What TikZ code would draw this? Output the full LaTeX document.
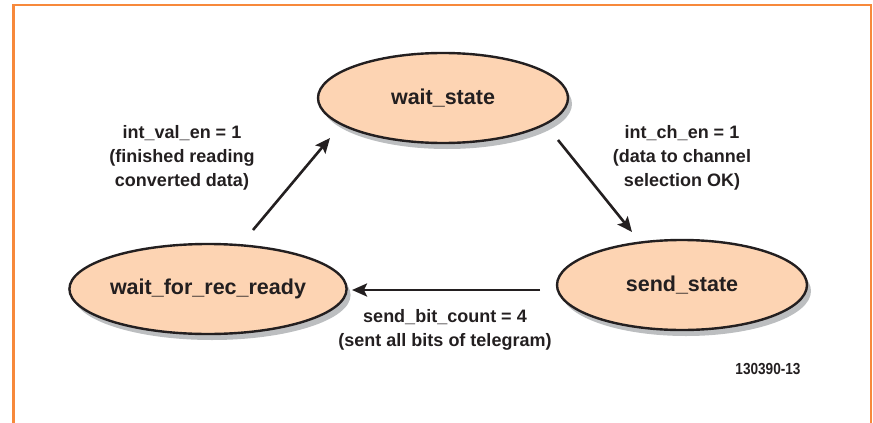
\documentclass[tikz,border=0pt]{standalone}
\usepackage{fontspec}
\setmainfont{Liberation Sans}
\newfontfamily\numfont[FakeStretch=0.85]{Liberation Sans}
\usetikzlibrary{shapes.geometric,arrows.meta,shadows}
\definecolor{frameorange}{HTML}{F7893B}
\definecolor{peach}{HTML}{FDD4B3}
\definecolor{shadowgray}{HTML}{BCBEC0}
\definecolor{ink}{HTML}{231F20}
\begin{document}
\begin{tikzpicture}[x=1pt,y=-1pt,
  state/.style={ellipse, draw=ink, line width=2.4pt, fill=peach, inner sep=0pt,
    minimum width=250pt, minimum height=90pt,
    font=\fontsize{21.5}{24}\selectfont\bfseries, text=ink,
    drop shadow={shadow xshift=4pt, shadow yshift=-6pt, fill=shadowgray, opacity=1}},
  lbl/.style={align=center, font=\fontsize{18}{24}\selectfont\bfseries, text=ink, inner sep=0pt},
  arr/.style={draw=ink, line width=2.6pt, -{Stealth[length=15pt,width=13pt,inset=3pt]}},
  frame/.style={draw=frameorange, line width=2.7pt}
]
\useasboundingbox (0,0) rectangle (873,423);
\draw[frame] (13.5,423) -- (13.5,5) -- (871,5) -- (871,423);

\node[state] (ws) at (443,98) {wait\_state};
\node[state] (wfr) at (208,289) {wait\_for\_rec\_ready};
\node[state] (ss) at (682,285) {send\_state};

\coordinate (a1s) at (253,230);
\coordinate (a1e) at (330,138);
\coordinate (a2s) at (558,140);
\coordinate (a2e) at (632,232);
\coordinate (a3s) at (540,290);
\coordinate (a3e) at (352,290);
\draw[arr] (a1s) -- (a1e);
\draw[arr] (a2s) -- (a2e);
\draw[arr] (a3s) -- (a3e);

\node[lbl] (l1) at (182,158) {int\_val\_en = 1\\(finished reading\\converted data)};
\node[lbl] (l2) at (682,158) {int\_ch\_en = 1\\(data to channel\\selection OK)};
\node[lbl] (l3) at (445,330) {send\_bit\_count = 4\\(sent all bits of telegram)};
\node[text=ink, inner sep=0pt, font=\numfont\fontsize{16}{18}\selectfont\bfseries] (id) at (768,369) {130390-13};
\end{tikzpicture}
\end{document}
